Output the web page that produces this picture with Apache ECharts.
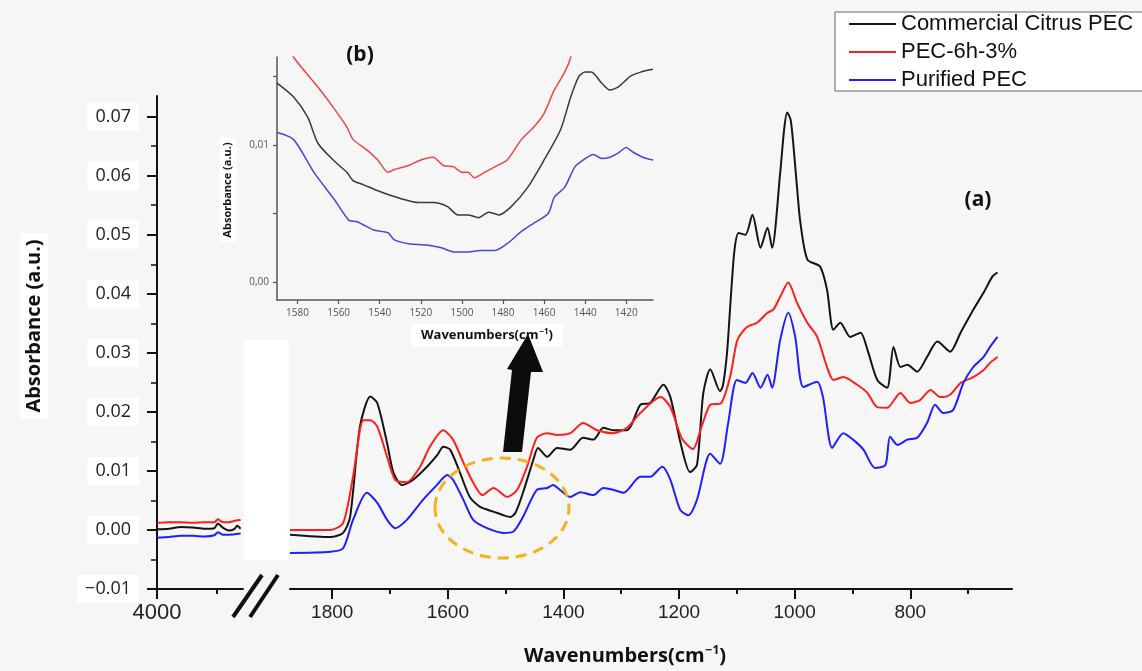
<!DOCTYPE html>
<html>
<head>
<meta charset="utf-8">
<script src="https://cdn.jsdelivr.net/npm/echarts@6/dist/echarts.min.js"></script>
<style>
  html, body { margin: 0; padding: 0; background: #f6f6f6; }
  #chart { width: 1142px; height: 671px; }
</style>
</head>
<body>
<div id="chart"></div>
<script>
// 시리즈 이름
const SERIES_NAMES = ['Commercial Citrus PEC', 'PEC-6h-3%', 'Purified PEC'];

// 왼쪽 구간 (4000 ~ 3300 cm-1)
const leftBlack = [[4000,0.0001],[3900,0.0002],[3800,0.0005],[3700,0.0004],[3600,0.0002],[3520,0.0003],[3490,0.0011],[3450,0.0004],[3400,-0.0001],[3350,0.0002],[3330,0.0007],[3300,0.0002]];
const leftRed = [[4000,0.0012],[3900,0.0013],[3800,0.0013],[3700,0.0012],[3600,0.0013],[3520,0.0013],[3490,0.0018],[3460,0.0014],[3400,0.0013],[3340,0.0016],[3300,0.0017]];
const leftBlue = [[4000,-0.0013],[3900,-0.0012],[3800,-0.0010],[3700,-0.0010],[3600,-0.0011],[3520,-0.0009],[3490,-0.0004],[3450,-0.0008],[3400,-0.0008],[3300,-0.0006]];

// 메인 구간 (1873 ~ 650 cm-1)
const mainBlack = [[1873,-0.0008],[1803,-0.0012],[1781,-0.0005],[1769,0.0022],[1752,0.0175],[1734,0.0226],[1722,0.0215],[1705,0.0147],[1694,0.0097],[1679,0.0076],[1660,0.0085],[1636,0.0107],[1618,0.0127],[1608,0.0141],[1596,0.0136],[1579,0.0097],[1562,0.0056],[1544,0.0039],[1521,0.0031],[1504,0.0025],[1492,0.0022],[1483,0.0029],[1470,0.0063],[1452,0.0119],[1444,0.0139],[1428,0.0124],[1411,0.0139],[1388,0.0136],[1366,0.0156],[1348,0.0153],[1331,0.0173],[1314,0.0169],[1290,0.0169],[1267,0.0212],[1250,0.0215],[1227,0.0246],[1215,0.0225],[1198,0.0150],[1181,0.0098],[1169,0.0110],[1158,0.0232],[1146,0.0272],[1129,0.0235],[1124,0.0245],[1117,0.0300],[1110,0.0400],[1104,0.0475],[1097,0.0503],[1085,0.0500],[1073,0.0534],[1059,0.0478],[1047,0.0512],[1039,0.0478],[1025,0.0605],[1018,0.0680],[1013,0.0707],[1007,0.0695],[1002,0.0650],[995,0.0570],[990,0.0520],[978,0.0458],[956,0.0446],[944,0.0407],[933,0.0339],[921,0.0351],[904,0.0327],[886,0.0334],[874,0.0305],[857,0.0254],[840,0.0241],[829,0.0310],[817,0.0276],[805,0.0280],[788,0.0268],[771,0.0293],[753,0.0319],[731,0.0302],[713,0.0334],[691,0.0373],[673,0.0402],[658,0.0429],[649,0.0436]];
const mainRed = [[1873,0.0000],[1803,0.0000],[1781,0.0012],[1764,0.0090],[1746,0.0186],[1734,0.0186],[1722,0.0175],[1705,0.0124],[1691,0.0085],[1671,0.0081],[1648,0.0107],[1631,0.0141],[1608,0.0169],[1591,0.0153],[1573,0.0114],[1556,0.0080],[1540,0.0059],[1521,0.0071],[1497,0.0056],[1480,0.0068],[1463,0.0107],[1446,0.0156],[1428,0.0164],[1411,0.0161],[1388,0.0164],[1366,0.0181],[1342,0.0169],[1314,0.0164],[1290,0.0173],[1267,0.0198],[1232,0.0225],[1215,0.0208],[1195,0.0155],[1176,0.0137],[1160,0.0178],[1146,0.0212],[1127,0.0215],[1111,0.0262],[1099,0.0322],[1082,0.0344],[1065,0.0351],[1047,0.0368],[1037,0.0373],[1025,0.0395],[1011,0.0419],[996,0.0385],[978,0.0351],[961,0.0327],[944,0.0276],[933,0.0254],[916,0.0259],[892,0.0246],[874,0.0232],[857,0.0208],[840,0.0207],[817,0.0232],[800,0.0215],[783,0.0220],[765,0.0237],[748,0.0225],[731,0.0229],[713,0.0249],[691,0.0259],[673,0.0271],[662,0.0283],[649,0.0293]];
const mainBlue = [[1873,-0.0039],[1803,-0.0037],[1781,-0.0031],[1764,0.0017],[1740,0.0063],[1722,0.0046],[1705,0.0017],[1691,0.0003],[1671,0.0017],[1643,0.0051],[1619,0.0076],[1601,0.0093],[1591,0.0085],[1573,0.0051],[1556,0.0017],[1532,0.0003],[1504,-0.0005],[1487,-0.0003],[1470,0.0022],[1446,0.0068],[1428,0.0071],[1418,0.0076],[1406,0.0068],[1388,0.0056],[1371,0.0064],[1348,0.0059],[1331,0.0071],[1314,0.0068],[1296,0.0063],[1267,0.0090],[1250,0.0090],[1229,0.0107],[1215,0.0085],[1198,0.0034],[1184,0.0025],[1169,0.0051],[1146,0.0129],[1129,0.0112],[1115,0.0181],[1100,0.0254],[1085,0.0249],[1073,0.0266],[1059,0.0241],[1047,0.0263],[1039,0.0241],[1025,0.0322],[1011,0.0368],[999,0.0327],[985,0.0242],[961,0.0251],[951,0.0225],[935,0.0139],[916,0.0164],[899,0.0153],[881,0.0136],[861,0.0105],[843,0.0110],[835,0.0158],[822,0.0144],[805,0.0153],[788,0.0156],[771,0.0181],[757,0.0212],[743,0.0198],[726,0.0203],[708,0.0249],[691,0.0276],[673,0.0293],[662,0.0310],[649,0.0327]];

// 확대 삽입도 (b)
const insetBlack = [[1590,0.0145],[1582,0.0135],[1575,0.0120],[1570,0.0101],[1562,0.0088],[1556,0.0080],[1553,0.0074],[1548,0.0071],[1540,0.0066],[1530,0.0061],[1521,0.0058],[1514,0.0058],[1507,0.0055],[1502,0.0049],[1497,0.0049],[1492,0.0047],[1487,0.0051],[1482,0.0049],[1476,0.0055],[1468,0.0069],[1460,0.0089],[1452,0.0111],[1447,0.0135],[1443,0.0150],[1440,0.0153],[1437,0.0153],[1432,0.0145],[1428,0.0140],[1424,0.0142],[1421,0.0146],[1418,0.0150],[1413,0.0153],[1407,0.0155]];
const insetRed = [[1592,0.0190],[1582,0.0164],[1570,0.0142],[1562,0.0126],[1556,0.0113],[1553,0.0104],[1546,0.0096],[1541,0.0089],[1536,0.0080],[1533,0.0082],[1526,0.0085],[1520,0.0089],[1514,0.0091],[1509,0.0085],[1504,0.0084],[1500,0.0080],[1497,0.0080],[1494,0.0076],[1489,0.0080],[1484,0.0084],[1478,0.0089],[1471,0.0104],[1465,0.0113],[1460,0.0123],[1455,0.0140],[1450,0.0153],[1447,0.0164],[1443,0.0190]];
const insetBlue = [[1590,0.0109],[1582,0.0104],[1572,0.0080],[1562,0.0060],[1555,0.0045],[1551,0.0044],[1543,0.0038],[1536,0.0036],[1533,0.0031],[1526,0.0028],[1517,0.0027],[1510,0.0025],[1504,0.0022],[1497,0.0022],[1491,0.0023],[1484,0.0023],[1478,0.0028],[1471,0.0037],[1465,0.0043],[1458,0.0050],[1455,0.0062],[1450,0.0069],[1445,0.0084],[1440,0.0090],[1436,0.0093],[1432,0.0090],[1428,0.0091],[1424,0.0094],[1420,0.0098],[1417,0.0095],[1412,0.0091],[1407,0.0089]];

// 눈금 값
const yMajorTicks = [-0.01, 0, 0.01, 0.02, 0.03, 0.04, 0.05, 0.06, 0.07];
const yMinorTicks = [-0.005, 0.005, 0.015, 0.025, 0.035, 0.045, 0.055, 0.065];
const xMainMajorTicks = [1800, 1600, 1400, 1200, 1000, 800];
const xMainMinorTicks = [1700, 1500, 1300, 1100, 900, 700];
const xLeftMajorTicks = [4000];
const xLeftMinorTicks = [3500];
const insetXTicks = [1580, 1560, 1540, 1520, 1500, 1480, 1460, 1440, 1420];
const insetYTicks = [0, 0.005, 0.01, 0.015];
const insetYLabels = [0, 0.01];

const COLORS = ['#141414', '#ff1e1e', '#1e1eff'];
const INSET_COLORS = ['#3a3a3a', '#f04646', '#4646d8'];

const AXIS_COLOR = '#111';
const Y_MIN = -0.01, Y_MAX = 0.0735;

const chart = echarts.init(document.getElementById('chart'));

// 천 단위 구분 기호 없이 정수 표시
const plainNumber = v => String(Math.round(v));

function lineSeries(name, data, xi, yi, color, width) {
    return {
        type: 'line', name: name, data: data,
        xAxisIndex: xi, yAxisIndex: yi,
        showSymbol: false, symbol: 'none', smooth: 0.25,
        lineStyle: { color: color, width: width },
        itemStyle: { color: color },
        clip: true, silent: true
    };
}

const hiddenAxis = { axisLine: { show: false }, axisTick: { show: false }, axisLabel: { show: false }, splitLine: { show: false } };

const option = {
    backgroundColor: '#f6f6f6',
    animation: false,
    textStyle: { fontFamily: 'Liberation Sans' },
    grid: [
        { left: 157, top: 96, width: 86, height: 493 },
        { left: 290, top: 96, width: 722, height: 493 },
        { left: 277, top: 57, width: 376, height: 243 }
    ],
    legend: {
        data: SERIES_NAMES,
        orient: 'vertical',
        left: 835, top: 12,
        padding: [1, 10, 0, 14],
        icon: 'rect', itemWidth: 47, itemHeight: 2, itemGap: 6,
        backgroundColor: '#ffffff',
        borderColor: '#666', borderWidth: 1, borderRadius: 0,
        textStyle: { fontFamily: 'Liberation Sans', fontSize: 22, color: '#111', lineHeight: 20 }
    },
    xAxis: [
        {   // 왼쪽 구간 주 눈금
            gridIndex: 0, type: 'value', min: 3280, max: 4000, inverse: true, position: 'bottom',
            axisLine: { onZero: false, lineStyle: { color: AXIS_COLOR, width: 2 } },
            axisTick: { customValues: xLeftMajorTicks, length: 10, lineStyle: { color: AXIS_COLOR, width: 2 } },
            axisLabel: { customValues: xLeftMajorTicks, formatter: plainNumber, margin: 13, fontSize: 22, color: '#222', fontFamily: 'Liberation Sans' },
            splitLine: { show: false }
        },
        {   // 왼쪽 구간 보조 눈금
            gridIndex: 0, type: 'value', min: 3280, max: 4000, inverse: true, position: 'bottom',
            axisLine: { show: false, onZero: false },
            axisTick: { customValues: xLeftMinorTicks, length: 5, lineStyle: { color: AXIS_COLOR, width: 2 } },
            axisLabel: { show: false }, splitLine: { show: false }
        },
        {   // 메인 주 눈금
            gridIndex: 1, type: 'value', min: 624, max: 1873, inverse: true, position: 'bottom',
            axisLine: { onZero: false, lineStyle: { color: AXIS_COLOR, width: 2 } },
            axisTick: { customValues: xMainMajorTicks, length: 10, lineStyle: { color: AXIS_COLOR, width: 2 } },
            axisLabel: { customValues: xMainMajorTicks, formatter: plainNumber, margin: 14, fontSize: 19, color: '#222', fontFamily: 'Liberation Sans' },
            splitLine: { show: false }
        },
        {   // 메인 보조 눈금
            gridIndex: 1, type: 'value', min: 624, max: 1873, inverse: true, position: 'bottom',
            axisLine: { show: false, onZero: false },
            axisTick: { customValues: xMainMinorTicks, length: 5, lineStyle: { color: AXIS_COLOR, width: 2 } },
            axisLabel: { show: false }, splitLine: { show: false }
        },
        {   // 삽입도
            gridIndex: 2, type: 'value', min: 1407, max: 1590, inverse: true, position: 'bottom',
            axisLine: { onZero: false, lineStyle: { color: '#555', width: 1.5 } },
            axisTick: { customValues: insetXTicks, length: 4, lineStyle: { color: '#555', width: 1.2 } },
            axisLabel: { customValues: insetXTicks, formatter: plainNumber, margin: 8, fontSize: 10, color: '#555', fontFamily: 'Open Sans' },
            splitLine: { show: false }
        }
    ],
    yAxis: [
        {   // 왼쪽 주 눈금
            gridIndex: 0, type: 'value', min: Y_MIN, max: Y_MAX, position: 'left',
            axisLine: { onZero: false, lineStyle: { color: AXIS_COLOR, width: 2 } },
            axisTick: { customValues: yMajorTicks, length: 10, lineStyle: { color: AXIS_COLOR, width: 2 } },
            axisLabel: {
                customValues: yMajorTicks, margin: 18, fontSize: 18, color: '#222', fontFamily: 'Open Sans',
                backgroundColor: '#ffffff', padding: [5, 8],
                formatter: v => (v < -1e-9 ? '\u2212' : '') + Math.abs(v).toFixed(2)
            },
            splitLine: { show: false }
        },
        {   // 왼쪽 보조 눈금
            gridIndex: 0, type: 'value', min: Y_MIN, max: Y_MAX, position: 'left',
            axisLine: { show: false, onZero: false },
            axisTick: { customValues: yMinorTicks, length: 6, lineStyle: { color: AXIS_COLOR, width: 1.5 } },
            axisLabel: { show: false }, splitLine: { show: false }
        },
        Object.assign({ gridIndex: 1, type: 'value', min: Y_MIN, max: Y_MAX, position: 'left' }, hiddenAxis),
        {   // 삽입도
            gridIndex: 2, type: 'value', min: -0.0013, max: 0.0164, position: 'left',
            axisLine: { onZero: false, lineStyle: { color: '#555', width: 1.5 } },
            axisTick: { customValues: insetYTicks, length: 4, lineStyle: { color: '#555', width: 1.2 } },
            axisLabel: {
                customValues: insetYLabels, margin: 8, fontSize: 10, color: '#555', fontFamily: 'Open Sans',
                formatter: v => v.toFixed(2).replace('.', ',')
            },
            splitLine: { show: false }
        }
    ],
    series: [
        lineSeries(SERIES_NAMES[0], mainBlack, 2, 2, COLORS[0], 2),
        lineSeries(SERIES_NAMES[1], mainRed, 2, 2, COLORS[1], 2),
        lineSeries(SERIES_NAMES[2], mainBlue, 2, 2, COLORS[2], 2),
        lineSeries(SERIES_NAMES[0], leftBlack, 0, 0, COLORS[0], 2),
        lineSeries(SERIES_NAMES[1], leftRed, 0, 0, COLORS[1], 2),
        lineSeries(SERIES_NAMES[2], leftBlue, 0, 0, COLORS[2], 2),
        lineSeries(SERIES_NAMES[0], insetBlack, 4, 3, INSET_COLORS[0], 1.5),
        lineSeries(SERIES_NAMES[1], insetRed, 4, 3, INSET_COLORS[1], 1.5),
        lineSeries(SERIES_NAMES[2], insetBlue, 4, 3, INSET_COLORS[2], 1.5)
    ],
    graphic: [
        // 축 끊김 사이 흰 영역
        { type: 'rect', z: -10, shape: { x: 244, y: 340, width: 45, height: 220 }, style: { fill: '#ffffff' } },
        // 축 끊김 표시 //
        { type: 'line', z: 10, shape: { x1: 233, y1: 617, x2: 262, y2: 575 }, style: { stroke: '#111', lineWidth: 4 } },
        { type: 'line', z: 10, shape: { x1: 250, y1: 617, x2: 278, y2: 575 }, style: { stroke: '#111', lineWidth: 4 } },
        // 축 제목
        {
            type: 'text', x: 34, y: 326, rotation: Math.PI / 2, z: 10,
            style: {
                text: 'Absorbance (a.u.)', fill: '#111', font: 'bold 20px "Open Sans"',
                align: 'center', verticalAlign: 'middle', backgroundColor: '#ffffff', padding: [4, 6]
            }
        },
        {
            type: 'text', x: 625, y: 656, z: 10,
            style: {
                text: '{a|Wavenumbers(cm}{s|\u22121}{a|)}', align: 'center', verticalAlign: 'middle',
                rich: {
                    a: { font: 'bold 20px "Open Sans"', fill: '#111' },
                    s: { font: 'bold 12px "Open Sans"', fill: '#111', verticalAlign: 'top', padding: [0, 0, 10, 1] }
                }
            }
        },
        // 삽입도 축 제목
        {
            type: 'text', x: 228, y: 190, rotation: Math.PI / 2, z: 10,
            style: {
                text: 'Absorbance (a.u.)', fill: '#111', font: 'bold 11px "Open Sans"',
                align: 'center', verticalAlign: 'middle', backgroundColor: '#ffffff', padding: [3, 4]
            }
        },
        {
            type: 'text', x: 487, y: 335, z: 10,
            style: {
                text: '{a|Wavenumbers(cm}{s|\u22121}{a|)}', align: 'center', verticalAlign: 'middle',
                backgroundColor: '#ffffff', padding: [4, 10],
                rich: {
                    a: { font: 'bold 13px "Open Sans"', fill: '#111' },
                    s: { font: 'bold 8px "Open Sans"', fill: '#111', verticalAlign: 'top', padding: [0, 0, 6, 1] }
                }
            }
        },
        // 패널 라벨
        { type: 'text', x: 978, y: 200, z: 10, style: { text: '(a)', font: 'bold 21px "Open Sans"', fill: '#111', align: 'center', verticalAlign: 'middle' } },
        { type: 'text', x: 360, y: 55, z: 10, style: { text: '(b)', font: 'bold 21px "Open Sans"', fill: '#111', align: 'center', verticalAlign: 'middle' } },
        // 주황색 점선 타원
        {
            type: 'ellipse', z: 10, shape: { cx: 502, cy: 508, rx: 67, ry: 50 },
            style: { fill: 'none', stroke: '#f5b21a', lineWidth: 3, lineDash: [11, 7] }
        },
        // 검은 화살표
        {
            type: 'polygon', z: 10,
            shape: { points: [[503, 452], [522, 452], [531, 372], [543, 372], [528, 334], [507, 369], [512, 370]] },
            style: { fill: '#0c0c0c' }
        }
    ]
};

chart.setOption(option);
window.addEventListener('resize', () => chart.resize());
</script>
</body>
</html>
